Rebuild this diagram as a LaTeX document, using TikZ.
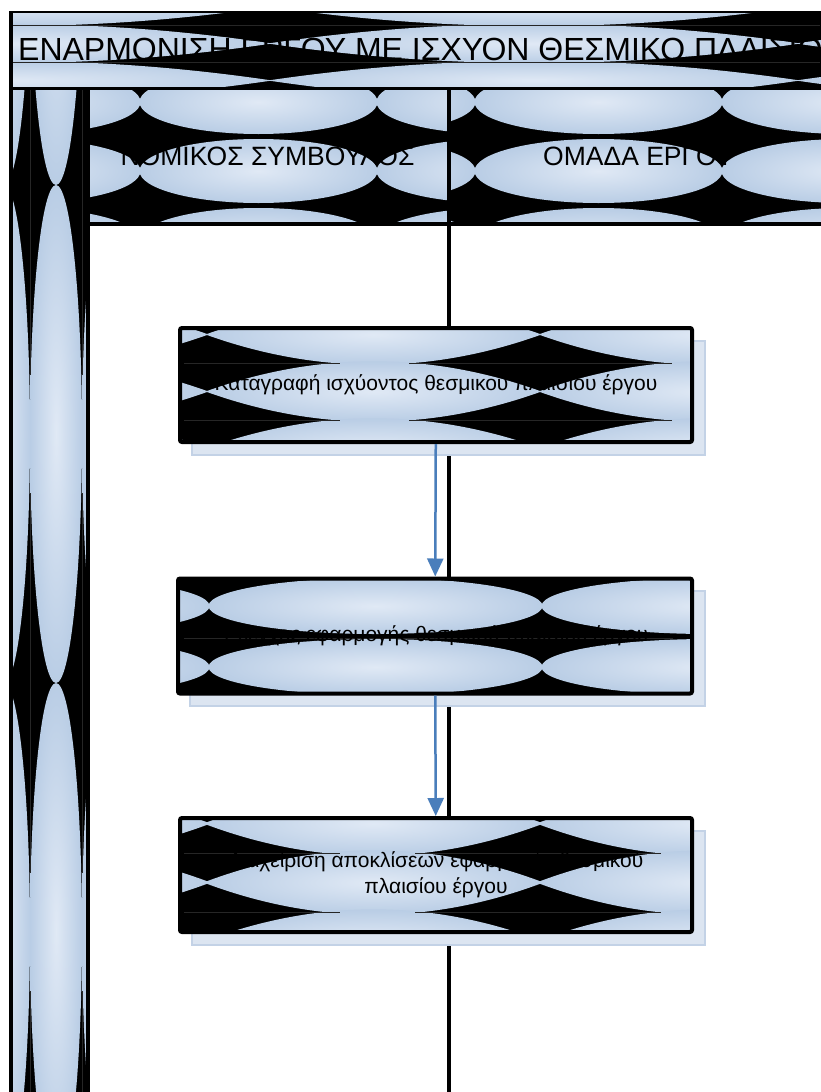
\documentclass[tikz,border=0pt]{standalone}
\usepackage{fontspec}
\setmainfont{Liberation Sans}
\usetikzlibrary{arrows.meta}
\definecolor{lightc}{HTML}{E0E9F5}
\definecolor{basec}{HTML}{B9CDE5}
\definecolor{shadowc}{HTML}{DCE5F1}
\definecolor{shadowd}{HTML}{C3D2E6}
\definecolor{arrowc}{HTML}{4A7EBB}
% #1,#2,#3,#4 = clip rectangle; #5 column centres; #6 row centres; #7 x radius; #8 y radius
\newcommand{\tilepat}[8]{%
  \begin{scope}
    \clip (#1,#2) rectangle (#3,#4);
    \fill[black] (#1,#2) rectangle (#3,#4);
    \foreach \cx in {#5}{%
      \foreach \cy in {#6}{%
        \shade[inner color=lightc, outer color=basec] (\cx,\cy) ellipse [x radius=#7pt, y radius=#8pt];
      }}
  \end{scope}}
% same, with pointed (lens shaped) tiles
\newcommand{\lenspat}[8]{%
  \begin{scope}
    \clip (#1,#2) rectangle (#3,#4);
    \fill[black] (#1,#2) rectangle (#3,#4);
    \foreach \cx in {#5}{%
      \foreach \cy in {#6}{%
        \shade[inner color=lightc, outer color=basec]
          ({\cx-#7},\cy) .. controls ({\cx-#7*2/3},{\cy-#8*2/3}) and ({\cx-#7/3},{\cy-#8}) .. (\cx,{\cy-#8})
          .. controls ({\cx+#7/3},{\cy-#8}) and ({\cx+#7*2/3},{\cy-#8*2/3}) .. ({\cx+#7},\cy)
          .. controls ({\cx+#7*2/3},{\cy+#8*2/3}) and ({\cx+#7/3},{\cy+#8}) .. (\cx,{\cy+#8})
          .. controls ({\cx-#7/3},{\cy+#8}) and ({\cx-#7*2/3},{\cy+#8*2/3}) .. ({\cx-#7},\cy) -- cycle;
      }}
  \end{scope}}
\begin{document}
\begin{tikzpicture}[x=1pt,y=-1pt,
  framel/.style={black, line width=4pt},
  seam/.style={black!85, line width=0.8pt},
  shadowbox/.style={fill=shadowc, draw=shadowd, line width=1.5pt},
  procbox/.style={draw=black, line width=4pt, rounded corners=2pt, minimum width=512pt, minimum height=114pt, inner sep=0pt, align=center, font=\fontsize{21}{25.5}\selectfont},
  lanetext/.style={inner sep=0pt, font=\fontsize{26.5}{30}\selectfont},
  flow/.style={arrowc, line width=2.5pt, -{Triangle[length=18pt,width=16pt]}}]
\useasboundingbox (0,0) rectangle (820,1092);
\fill[white] (0,0) rectangle (820,1092);
% title bar
\lenspat{11}{12}{822}{88}{6,534,1062}{6.5,43.5,80.5}{266}{19.6}
\draw[seam] (12,25) -- (820,25);
\draw[seam] (12,62) -- (820,62);
% header cells
\tilepat{89}{88}{449}{224}{21.5,258.5,495.5}{102,171,240}{119}{32}
\tilepat{449}{88}{822}{224}{351.5,598.5,845.5}{102,171,240}{124}{32}
% vertical pool strip
\tilepat{11}{88}{88}{1094}{4,56,108}{-64,434,932}{26}{249}
\begin{scope}
  \clip (11,90) rectangle (88,1094);
  \foreach \ty in {185,683,1181}{
    \draw[seam] (30,\ty-190) -- (30,\ty+190);
    \draw[seam] (82,\ty-190) -- (82,\ty+190);
  }
\end{scope}
% frame lines
\draw[black, line width=2.5pt] (10,12) -- (822,12);
\draw[black, line width=3.5pt] (11,11) -- (11,1094);
\draw[black, line width=3pt] (10,88) -- (822,88);
\draw[framel] (88,88) -- (88,1094);
\draw[framel] (88,224) -- (822,224);
\draw[framel] (449,88) -- (449,1094);
% shadows
\fill[shadowbox] (192,341) rectangle (705,455);
\fill[shadowbox] (190,591) rectangle (705,706);
\fill[shadowbox] (192,831) rectangle (705,945);
\draw[shadowd, line width=1.5pt] (192,341) rectangle (705,455);
\draw[shadowd, line width=1.5pt] (190,591) rectangle (705,706);
\draw[shadowd, line width=1.5pt] (192,831) rectangle (705,945);
% box fills
\lenspat{180}{328}{692}{442}{40.5,373.5,706.5}{334.5,391.5,448.5}{168}{30.2}
\draw[seam] (184,363) -- (340,363);
\draw[seam] (409,363) -- (672,363);
\draw[seam] (184,420) -- (340,420);
\draw[seam] (409,420) -- (672,420);
\tilepat{178}{578}{692}{693}{42.5,375.5,708.5}{545,606,667,728}{167}{28}
\draw[seam] (184,638) -- (673,638);
\lenspat{180}{818}{692}{932}{40.5,373.5,706.5}{823.5,882.5,941.5}{170}{32.2}
\draw[seam] (184,853) -- (340,853);
\draw[seam] (415,853) -- (661,853);
\draw[seam] (184,912) -- (340,912);
\draw[seam] (415,912) -- (661,912);
% process boxes
\node[procbox] (b1) at (436,385) {Καταγραφή ισχύοντος θεσμικού πλαισίου έργου};
\node[procbox, minimum width=514pt, minimum height=115pt] (b2) at (435,636) {Έλεγχος εφαρμογής θεσμικού πλαισίου έργου};
\node[procbox] (b3) at (436,875) {Διαχείριση αποκλίσεων εφαρμογής θεσμικού\\πλαισίου έργου};
% texts
\node[inner sep=0pt, anchor=base west, font=\fontsize{32}{38}\selectfont] (title) at (18,60) {ΕΝΑΡΜΟΝΙΣΗ ΕΡΓΟΥ ΜΕ ΙΣΧΥΟΝ ΘΕΣΜΙΚΟ ΠΛΑΙΣΙΟ};
\node[lanetext, anchor=base] (lane1) at (267.5,165) {ΝΟΜΙΚΟΣ ΣΥΜΒΟΥΛΟΣ};
\node[lanetext, anchor=base west] (lane2) at (543,165) {ΟΜΑΔΑ ΕΡΓΟΥ};
% connectors
\draw[flow] (b1) -- (b2);
\draw[flow] (b2) -- (b3);
\end{tikzpicture}
\end{document}
